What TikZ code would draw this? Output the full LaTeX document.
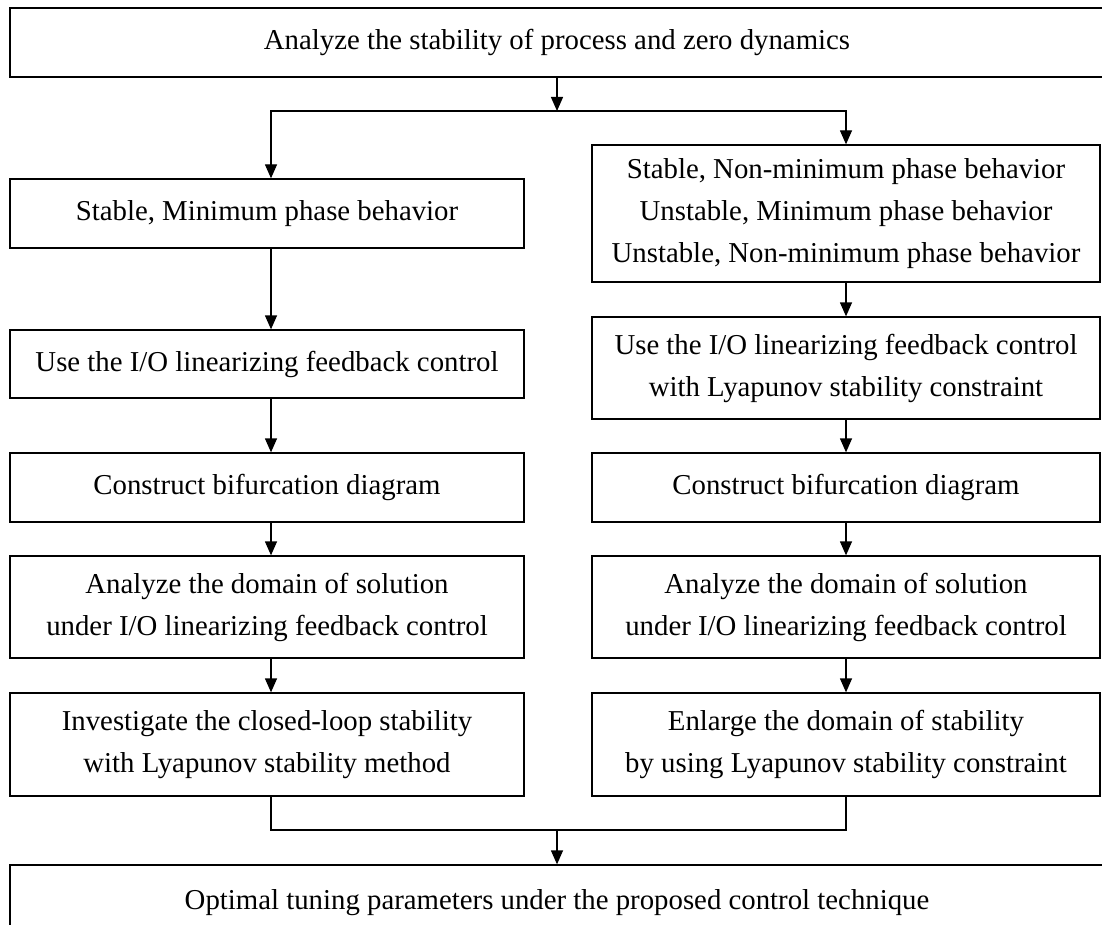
\documentclass[tikz,border=0pt]{standalone}
\usepackage{fontspec}
\setmainfont{Liberation Serif}
\usetikzlibrary{arrows.meta}
\begin{document}
\begin{tikzpicture}[x=0.5pt,y=-0.5pt,
  box/.style={draw, line width=0.65pt, align=center, inner sep=0pt,
    font=\fontsize{14.4}{21}\selectfont},
  lbox/.style={box, minimum width=257pt},
  rbox/.style={box, minimum width=254pt},
  flow/.style={line width=0.65pt, -{Triangle[length=7pt,width=6pt]}},
  link/.style={line width=0.65pt}]
\useasboundingbox (0,0) rectangle (1102,925);
\clip (0,0) rectangle (1102,925);
\fill[white] (0,0) rectangle (1102,925);

% top and bottom banners (run past the right edge)
\node[box, minimum width=547pt, minimum height=34.5pt] (top) at (557,42.5)
  {Analyze the stability of process and zero dynamics};
\node[box, minimum width=547pt, minimum height=38pt] (bot) at (557,903)
  {Optimal tuning parameters under the proposed control technique};

% left branch
\node[lbox, minimum height=34.5pt] (L1) at (267,213.5) {Stable, Minimum phase behavior};
\node[lbox, minimum height=34pt]   (L2) at (267,364)   {Use the I/O linearizing feedback control};
\node[lbox, minimum height=34.5pt] (L3) at (267,487.5) {Construct bifurcation diagram};
\node[lbox, minimum height=51pt]   (L4) at (267,607)
  {Analyze the domain of solution\\under I/O linearizing feedback control};
\node[lbox, minimum height=51.5pt] (L5) at (267,744.5)
  {Investigate the closed-loop stability\\with Lyapunov stability method};

% right branch
\node[rbox, minimum height=68.5pt] (R1) at (846,213.5)
  {Stable, Non-minimum phase behavior\\Unstable, Minimum phase behavior\\Unstable, Non-minimum phase behavior};
\node[rbox, minimum height=51pt]   (R2) at (846,368)
  {Use the I/O linearizing feedback control\\with Lyapunov stability constraint};
\node[rbox, minimum height=34.5pt] (R3) at (846,487.5) {Construct bifurcation diagram};
\node[rbox, minimum height=51pt]   (R4) at (846,607)
  {Analyze the domain of solution\\under I/O linearizing feedback control};
\node[rbox, minimum height=51.5pt] (R5) at (846,744.5)
  {Enlarge the domain of stability\\by using Lyapunov stability constraint};

% split into the two branches
\coordinate (split) at (557,111);
\draw[flow] (top.south) -- (split);
\draw[flow] (split) -| ([xshift=2pt]L1.north);
\draw[flow] (split) -| (R1.north);

% left chain
\draw[flow] ([xshift=2pt]L1.south) -- ([xshift=2pt]L2.north);
\draw[flow] ([xshift=2pt]L2.south) -- ([xshift=2pt]L3.north);
\draw[flow] ([xshift=2pt]L3.south) -- ([xshift=2pt]L4.north);
\draw[flow] ([xshift=2pt]L4.south) -- ([xshift=2pt]L5.north);

% right chain
\draw[flow] (R1.south) -- (R2.north);
\draw[flow] (R2.south) -- (R3.north);
\draw[flow] (R3.south) -- (R4.north);
\draw[flow] (R4.south) -- (R5.north);

% merge into the final step
\coordinate (merge) at (557,830);
\draw[link] ([xshift=2pt]L5.south) |- (merge);
\draw[link] (R5.south) |- (merge);
\draw[flow] (merge) -- (bot.north);
\end{tikzpicture}
\end{document}
